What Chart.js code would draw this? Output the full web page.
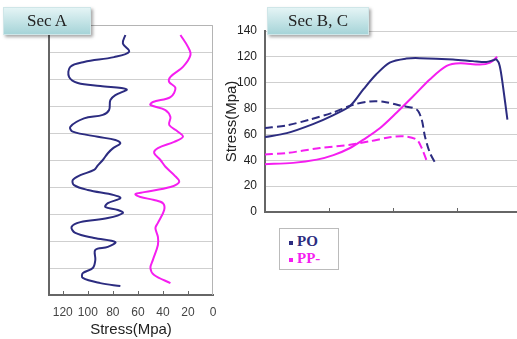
<!DOCTYPE html>
<html>
<head>
<meta charset="utf-8">
<script src="https://cdn.jsdelivr.net/npm/chart.js@4"></script>
<style>
  body { margin: 0; background: #fff; width: 517px; height: 339px; overflow: hidden; position: relative; }
  canvas { position: absolute; top: 0; }
  #chartA { left: 0; }
  #chartB { left: 220px; }
  .tab {
    position: absolute; top: 7px; height: 26px;
    background: linear-gradient(#e4f4f5, #a6d4d8);
    border: 1px solid #cfe6e8;
    box-shadow: 2px 2px 3px rgba(0,0,0,0.35);
    font-family: "Liberation Serif", "DejaVu Serif", serif;
    font-size: 17px; line-height: 26px; color: #222; text-align: center;
  }
  #legend {
    position: absolute; left: 279px; top: 228px; width: 58px; height: 40px;
    border: 1px solid #bbb; background: #fff;
    font-family: "Liberation Serif", "DejaVu Serif", serif; font-weight: bold; font-size: 15px;
  }
  #legend div { position: absolute; left: 9px; line-height: 17px; }
  #legend span { display: inline-block; width: 4px; height: 4px; margin-right: 4px; vertical-align: middle; }
</style>
</head>
<body>
<canvas id="chartA" width="230" height="339"></canvas>
<canvas id="chartB" width="297" height="339"></canvas>
<div class="tab" style="left:3px;width:86px;">Sec A</div>
<div class="tab" style="left:267px;width:100px;">Sec B, C</div>
<div id="legend"></div>
<script>
// Sec A: stress profile down the section (depth 0 = top, 10 = bottom)
const depthPO = [0.37, 0.68, 0.99, 1.19, 1.37, 1.55, 1.92, 2.15, 2.26, 2.38, 2.6, 2.78, 3.15, 3.33, 3.46, 3.77, 3.95, 4.14, 4.26, 4.38, 4.57, 4.75, 5.0, 5.2, 5.37, 5.56, 5.74, 5.93, 6.11, 6.3, 6.41, 6.6, 6.74, 6.85, 6.96, 7.15, 7.3, 7.48, 7.7, 7.89, 8.04, 8.22, 8.33, 8.7, 9.0, 9.19, 9.37, 9.56, 9.67];
const stressPO = [70, 72, 67, 79, 103, 114, 115, 108, 90, 69, 78, 82, 83, 88, 103, 114, 112, 92, 78, 74, 80, 84, 88, 92, 95, 106, 112, 111, 100, 79, 74, 84, 86, 76, 72, 84, 106, 113, 110, 95, 78, 84, 94, 94, 96, 104, 104, 90, 74];
const depthPP = [0.37, 0.81, 1.11, 1.55, 1.92, 2.11, 2.33, 2.67, 2.85, 2.96, 3.15, 3.41, 3.7, 3.95, 4.14, 4.33, 4.56, 4.74, 5.0, 5.25, 5.56, 5.81, 6.0, 6.19, 6.26, 6.37, 6.48, 6.6, 6.85, 7.33, 7.52, 7.85, 8.15, 8.7, 9.0, 9.26, 9.56];
const stressPP = [26, 20, 18, 24, 34, 35, 30, 34, 48, 50, 38, 34, 35, 28, 24, 31, 44, 47, 42, 38, 31, 27, 34, 55, 62, 58, 47, 40, 39, 44, 46, 44, 44, 48, 50, 47, 34];
const stressTicksA = [120, 100, 80, 60, 40, 20, 0];

// Sec B, C: position along section vs stress (solid = B, dashed = C)
const posPOB = [0, 0.34, 0.75, 1.07, 1.33, 1.54, 1.74, 1.95, 2.21, 2.42, 2.94, 3.25, 3.46, 3.57, 3.62, 3.67, 3.72, 3.79];
const valPOB = [58, 61, 68, 75, 82, 95, 106.5, 115.6, 118.7, 119, 118, 116.7, 116, 117.4, 118, 113, 97.5, 71.5];
const posPOC = [0, 0.34, 0.7, 1.07, 1.38, 1.64, 1.85, 2.11, 2.37, 2.45, 2.5, 2.58, 2.68];
const valPOC = [65, 67, 71.5, 77, 83, 85.5, 85.3, 82.4, 79.3, 71.5, 58.6, 45.6, 36.5];
const posPPB = [0, 0.44, 0.81, 1.07, 1.33, 1.54, 1.8, 2.06, 2.32, 2.58, 2.84, 3.05, 3.36, 3.52, 3.63];
const valPPB = [37, 38, 40.5, 44, 49.5, 56, 65, 77, 89.7, 102.7, 113, 115, 114, 115.6, 120];
const posPPC = [0, 0.34, 0.86, 1.33, 1.64, 1.95, 2.16, 2.37, 2.45, 2.54];
const valPPC = [44.5, 45.6, 49.5, 52, 54.7, 57.8, 58.6, 56, 49.5, 38];

const seriesNames = ["PO", "PP-"];
const seriesColors = ["#2c2c80", "#f51ef0"];

const zip = (xs, ys) => xs.map((x, i) => ({ x: x, y: ys[i] }));

// small tick marks pointing up into the plot, plus a light frame on top/right
const innerTicks = {
  id: "innerTicks",
  beforeDatasetsDraw(chart, args, opts) {
    const { ctx, chartArea, scales } = chart;
    ctx.save();
    if (opts.frame) {
      ctx.strokeStyle = "#b4b4b4";
      ctx.lineWidth = 1;
      ctx.beginPath();
      ctx.moveTo(chartArea.left, chartArea.top + 0.5);
      ctx.lineTo(chartArea.right - 0.5, chartArea.top + 0.5);
      ctx.lineTo(chartArea.right - 0.5, chartArea.bottom);
      ctx.stroke();
    }
    ctx.strokeStyle = "#666";
    ctx.lineWidth = 1;
    scales.x.ticks.forEach(t => {
      const px = Math.round(scales.x.getPixelForValue(t.value)) + 0.5;
      if (px <= chartArea.left + 2 || px >= chartArea.right - 2) return;
      ctx.beginPath();
      ctx.moveTo(px, chartArea.bottom);
      ctx.lineTo(px, chartArea.bottom - 4);
      ctx.stroke();
    });
    ctx.restore();
  }
};

const tickFont = { family: "'Liberation Sans', Arial, sans-serif", size: 12 };
const titleFont = { family: "'Liberation Sans', Arial, sans-serif", size: 15 };

new Chart(document.getElementById("chartA"), {
  type: "scatter",
  data: {
    datasets: [
      { label: seriesNames[0], data: zip(stressPO, depthPO), borderColor: seriesColors[0] },
      { label: seriesNames[1], data: zip(stressPP, depthPP), borderColor: seriesColors[1] }
    ]
  },
  options: {
    responsive: false,
    animation: false,
    showLine: true,
    elements: { point: { radius: 0 }, line: { borderWidth: 2, tension: 0.35 } },
    layout: { padding: { left: 49, right: 17, top: 25, bottom: 0 } },
    plugins: { legend: { display: false }, tooltip: { enabled: false }, innerTicks: { frame: true } },
    scales: {
      x: {
        type: "linear", reverse: true, min: 0, max: 131,
        afterBuildTicks: s => { s.ticks = stressTicksA.map(v => ({ value: v })); },
        afterFit: s => { s.height = 44; },
        ticks: { font: tickFont, color: "#444", padding: 10, includeBounds: false },
        grid: { display: false, drawTicks: false },
        border: { color: "#666", width: 2 },
        title: { display: true, text: "Stress(Mpa)", font: titleFont, color: "#222", padding: 0 }
      },
      y: {
        type: "linear", reverse: true, min: 0, max: 10,
        afterFit: s => { s.width = 0; },
        ticks: { display: false, stepSize: 1 },
        grid: { color: "#cfcfcf", drawTicks: false },
        border: { color: "#666", width: 2 }
      }
    }
  },
  plugins: [innerTicks]
});

new Chart(document.getElementById("chartB"), {
  type: "scatter",
  data: {
    datasets: [
      { label: seriesNames[0], data: zip(posPOB, valPOB), borderColor: seriesColors[0] },
      { label: seriesNames[0], data: zip(posPOC, valPOC), borderColor: seriesColors[0], borderDash: [8, 4] },
      { label: seriesNames[1], data: zip(posPPB, valPPB), borderColor: seriesColors[1] },
      { label: seriesNames[1], data: zip(posPPC, valPPC), borderColor: seriesColors[1], borderDash: [8, 4] }
    ]
  },
  options: {
    responsive: false,
    animation: false,
    showLine: true,
    elements: { point: { radius: 0 }, line: { borderWidth: 2, tension: 0.3 } },
    layout: { padding: { left: 3, right: 0, top: 31, bottom: 127 } },
    plugins: { legend: { display: false }, tooltip: { enabled: false }, innerTicks: { frame: false } },
    scales: {
      x: {
        type: "linear", min: 0, max: 3.94,
        afterFit: s => { s.height = 0; },
        ticks: { display: false, stepSize: 1 },
        grid: { display: false, drawTicks: false },
        border: { color: "#666", width: 2 }
      },
      y: {
        min: 0, max: 140,
        afterFit: s => { s.width = 42; },
        ticks: { stepSize: 20, font: tickFont, color: "#222", padding: 8 },
        grid: { color: "#cfcfcf", drawTicks: false },
        border: { color: "#666", width: 2 },
        title: { display: true, text: "Stress(Mpa)", font: titleFont, color: "#222", padding: 0 }
      }
    }
  },
  plugins: [innerTicks]
});

// legend built from the series names and colours
const legend = document.getElementById("legend");
seriesNames.forEach((name, i) => {
  const row = document.createElement("div");
  row.style.top = (4 + i * 17) + "px";
  row.style.color = seriesColors[i];
  row.innerHTML = '<span style="background:' + seriesColors[i] + '"></span>' + name;
  legend.appendChild(row);
});
</script>
</body>
</html>
